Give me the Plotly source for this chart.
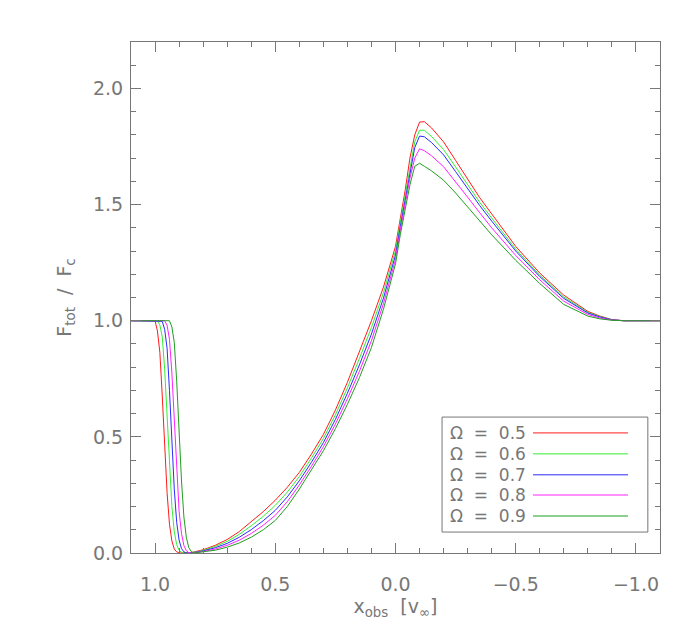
import plotly.graph_objects as go

# x grid (in units of v_inf), shared by all curves
x_obs = [1.1, 1.0, 0.99, 0.98, 0.97, 0.96, 0.95, 0.94, 0.93, 0.92, 0.91, 0.90,
         0.89, 0.88, 0.87, 0.86, 0.85, 0.84, 0.82, 0.80, 0.75, 0.70, 0.65, 0.60,
         0.55, 0.50, 0.45, 0.40, 0.35, 0.30, 0.25, 0.20, 0.15, 0.10, 0.05, 0.0,
         -0.02, -0.04, -0.06, -0.08, -0.10, -0.12, -0.15, -0.20, -0.25, -0.30,
         -0.35, -0.40, -0.50, -0.60, -0.70, -0.80, -0.85, -0.90, -0.95, -1.0, -1.1]

# F_tot / F_c for each Omega
flux_05 = [1.0, 1.0, 0.956, 0.864, 0.676, 0.458, 0.26, 0.124, 0.052, 0.017, 0.005, 0.0,
           0.0, 0.0, 0.0, 0.001, 0.002, 0.004, 0.008, 0.014, 0.033, 0.058, 0.092, 0.133,
           0.178, 0.227, 0.283, 0.347, 0.425, 0.51, 0.615, 0.735, 0.865, 1.0, 1.145, 1.32,
           1.44, 1.56, 1.70, 1.80, 1.855, 1.857, 1.83, 1.77, 1.69, 1.61,
           1.53, 1.46, 1.32, 1.205, 1.11, 1.04, 1.02, 1.005, 1.0, 1.0, 1.0]
flux_06 = [1.0, 1.0, 1.0, 0.982, 0.93, 0.79, 0.59, 0.37, 0.20, 0.092, 0.036, 0.012,
           0.002, 0.0, 0.0, 0.0, 0.002, 0.003, 0.0065, 0.0115, 0.028, 0.050, 0.080, 0.117,
           0.158, 0.205, 0.262, 0.329, 0.408, 0.4925, 0.595, 0.711, 0.8375, 0.971, 1.121, 1.301,
           1.423, 1.54, 1.67, 1.77, 1.82, 1.82, 1.793, 1.737, 1.662, 1.586,
           1.51, 1.442, 1.308, 1.196, 1.102, 1.036, 1.018, 1.004, 1.0, 1.0, 1.0]
flux_07 = [1.0, 1.0, 1.0, 1.0, 0.997, 0.963, 0.882, 0.70, 0.48, 0.275, 0.132, 0.056,
           0.019, 0.005, 0.0, 0.0, 0.001, 0.002, 0.005, 0.009, 0.0225, 0.0415, 0.0675, 0.1005,
           0.139, 0.1835, 0.2415, 0.311, 0.39, 0.475, 0.575, 0.6875, 0.81, 0.9425, 1.0975, 1.2825,
           1.405, 1.52, 1.643, 1.745, 1.795, 1.792, 1.767, 1.714, 1.642, 1.569,
           1.496, 1.429, 1.30, 1.19, 1.096, 1.033, 1.016, 1.004, 1.0, 1.0, 1.0]
flux_08 = [1.0, 1.0, 1.0, 1.0, 1.0, 1.0, 0.98, 0.92, 0.775, 0.566, 0.353, 0.18,
           0.084, 0.032, 0.01, 0.002, 0.0, 0.001, 0.0035, 0.0065, 0.017, 0.033, 0.055, 0.084,
           0.1195, 0.162, 0.221, 0.293, 0.3725, 0.4575, 0.555, 0.664, 0.7825, 0.914, 1.074, 1.264,
           1.388, 1.50, 1.614, 1.70, 1.74, 1.732, 1.71, 1.663, 1.599, 1.532,
           1.465, 1.40, 1.281, 1.176, 1.084, 1.027, 1.012, 1.003, 1.0, 1.0, 1.0]
flux_09 = [1.0, 1.0, 1.0, 1.0, 1.0, 1.0, 1.0, 1.0, 0.973, 0.907, 0.74, 0.52,
           0.31, 0.155, 0.068, 0.024, 0.007, 0.0, 0.002, 0.004, 0.012, 0.025, 0.043, 0.068,
           0.10, 0.14, 0.20, 0.275, 0.355, 0.44, 0.535, 0.64, 0.755, 0.885, 1.05, 1.245,
           1.37, 1.48, 1.585, 1.665, 1.678, 1.665, 1.645, 1.605, 1.55, 1.49,
           1.43, 1.37, 1.26, 1.16, 1.07, 1.02, 1.008, 1.002, 1.0, 1.0, 1.0]

omega_labels = ["0.5", "0.6", "0.7", "0.8", "0.9"]
line_colors = ["#ff1a1a", "#33ee33", "#2a2aff", "#ff22ff", "#1f9f1f"]
all_flux = [flux_05, flux_06, flux_07, flux_08, flux_09]

major_x = [1.0, 0.5, 0.0, -0.5, -1.0]
major_y = [0.0, 0.5, 1.0, 1.5, 2.0]

grey = "#777777"
font_name = "DejaVu Sans"

fig = go.Figure()
for flux, col, lab in zip(all_flux, line_colors, omega_labels):
    fig.add_trace(go.Scatter(x=x_obs, y=flux, mode="lines",
                             line=dict(color=col, width=1), name=lab,
                             showlegend=False))

axis_common = dict(
    showgrid=False, zeroline=False, showline=True, linecolor=grey, linewidth=1,
    mirror="ticks", ticks="inside", ticklen=10, tickcolor=grey, tickwidth=1,
    tickfont=dict(family=font_name, size=19, color=grey),
    minor=dict(ticks="inside", ticklen=5, dtick=0.1, tickcolor=grey, tickwidth=1),
)

fig.update_xaxes(range=[1.1, -1.1], tickvals=major_x,
                 ticktext=["1.0", "0.5", "0.0", "\u22120.5", "\u22121.0"],
                 ticklabelstandoff=14,
                 title=dict(text="x<sub>obs</sub>  [v<sub>\u221e</sub>]",
                            font=dict(family=font_name, size=19, color=grey),
                            standoff=2),
                 **axis_common)
fig.update_yaxes(range=[0.0, 2.2], tickvals=major_y,
                 ticktext=["0.0", "0.5", "1.0", "1.5", "2.0"],
                 ticklabelstandoff=3,
                 title=dict(text="F<sub>tot</sub>  /  F<sub>c</sub>",
                            font=dict(family=font_name, size=19, color=grey),
                            standoff=16),
                 **axis_common)

# legend box drawn by hand: label on the left, line sample on the right
fig.add_shape(type="rect", xref="paper", yref="paper",
              x0=0.588, x1=0.977, y0=0.041, y1=0.266,
              line=dict(color=grey, width=1), fillcolor="white")
row_y = [0.235, 0.194, 0.153, 0.1135, 0.0724]
for lab, col, ry in zip(omega_labels, line_colors, row_y):
    fig.add_annotation(xref="paper", yref="paper", x=0.599, y=ry,
                       xanchor="left", yanchor="middle", showarrow=False,
                       text="\u03a9  =  " + lab,
                       font=dict(family=font_name, size=17, color=grey))
    fig.add_shape(type="line", xref="paper", yref="paper",
                  x0=0.760, x1=0.9395, y0=ry, y1=ry,
                  line=dict(color=col, width=1))

# the page adds an 8 px body margin, so margins are shifted to compensate
fig.update_layout(width=700, height=636,
                  margin=dict(l=123, r=48, t=34, b=91),
                  paper_bgcolor="white", plot_bgcolor="white")

fig.write_html("out.html")
